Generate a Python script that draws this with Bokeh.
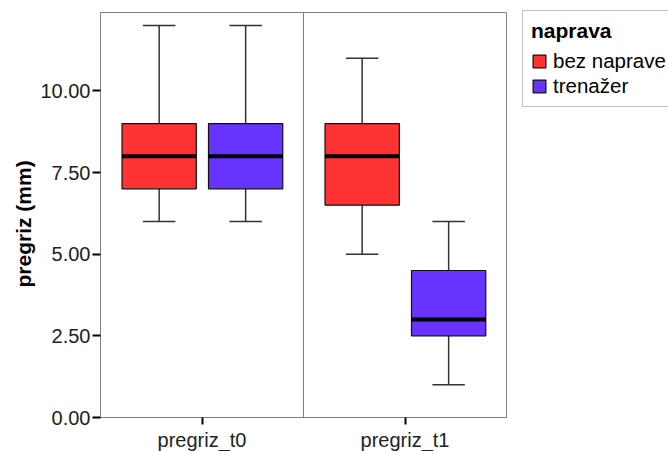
from bokeh.plotting import figure
from bokeh.models import (ColumnDataSource, FactorRange, Range1d, Span, Legend,
                          LegendItem, FixedTicker, NumeralTickFormatter, Title)
from bokeh.transform import dodge
from bokeh.embed import file_html
from bokeh.resources import INLINE

# ---- data ----
groups = ["pregriz_t0", "pregriz_t1"]
series = ["bez naprave", "trenažer"]
colors = ["#FF3333", "#6633FF"]

bez_min = [6, 5]
bez_q1 = [7, 6.5]
bez_med = [8, 8]
bez_q3 = [9, 9]
bez_max = [12, 11]

tre_min = [6, 1]
tre_q1 = [7, 2.5]
tre_med = [8, 3]
tre_q3 = [9, 4.5]
tre_max = [12, 6]

y_ticks = [0, 2.5, 5, 7.5, 10]
y_label = "pregriz (mm)"
legend_title = "naprava"

FONT = "Liberation Sans"
BOX_W = 0.366
CAP_W = 0.16
OFFSETS = [-0.211, 0.215]

p = figure(x_range=FactorRange(*groups, range_padding=0),
           y_range=Range1d(0, 12.4),
           frame_width=406, frame_height=405,
           min_border_left=100, min_border_right=0,
           min_border_top=12, min_border_bottom=30,
           output_backend="svg", toolbar_location=None)

p.xgrid.visible = False
p.ygrid.visible = False
p.outline_line_color = "#808080"
p.outline_line_width = 1
p.background_fill_color = "white"
p.border_fill_color = "white"

p.add_layout(Span(location=1, dimension="height", line_color="#808080", line_width=1))

stats = [
    (bez_min, bez_q1, bez_med, bez_q3, bez_max),
    (tre_min, tre_q1, tre_med, tre_q3, tre_max),
]

box_renderers = []
for (mn, q1, med, q3, mx), color, off in zip(stats, colors, OFFSETS):
    src = ColumnDataSource(dict(group=groups, mn=mn, q1=q1, med=med, q3=q3, mx=mx))
    xc = dodge("group", off, range=p.x_range)
    # stems
    p.segment(x0=xc, y0="q3", x1=xc, y1="mx", source=src, line_color="#333333", line_width=1.5)
    p.segment(x0=xc, y0="mn", x1=xc, y1="q1", source=src, line_color="#333333", line_width=1.5)
    # caps
    xl = dodge("group", off - CAP_W / 2, range=p.x_range)
    xr = dodge("group", off + CAP_W / 2, range=p.x_range)
    p.segment(x0=xl, y0="mx", x1=xr, y1="mx", source=src, line_color="#333333", line_width=1.5)
    p.segment(x0=xl, y0="mn", x1=xr, y1="mn", source=src, line_color="#333333", line_width=1.5)
    # box
    r = p.vbar(x=xc, top="q3", bottom="q1", width=BOX_W, source=src,
               fill_color=color, line_color="#111111", line_width=1.2)
    box_renderers.append(r)
    # median
    ml = dodge("group", off - BOX_W / 2, range=p.x_range)
    mr = dodge("group", off + BOX_W / 2, range=p.x_range)
    p.segment(x0=ml, y0="med", x1=mr, y1="med", source=src, line_color="black", line_width=4)

# ---- axes ----
p.yaxis.ticker = FixedTicker(ticks=y_ticks)
p.yaxis.formatter = NumeralTickFormatter(format="0.00")
for ax in (p.xaxis[0], p.yaxis[0]):
    ax.axis_line_color = "#808080"
    ax.major_tick_line_color = "black"
    ax.major_tick_line_width = 2
    ax.major_tick_in = 0
    ax.major_tick_out = 8
    ax.minor_tick_line_color = None
    ax.major_label_text_font = FONT
    ax.major_label_text_font_size = "20px"
    ax.major_label_text_color = "#222222"
p.yaxis.major_label_standoff = 2
p.xaxis.major_tick_out = 7
p.xaxis.major_label_standoff = 4

# y-axis title (placed as a left-side title so it can sit slightly below centre)
ytitle = Title(text=y_label, align="left", offset=130, standoff=6,
               text_font=FONT, text_font_style="bold", text_font_size="21px",
               text_color="black")
p.add_layout(ytitle, "left")

# ---- legend ----
legend = Legend(items=[LegendItem(label=s, renderers=[r]) for s, r in zip(series, box_renderers)],
                location=(16, 310))
legend.title = legend_title
legend.title_text_font = FONT
legend.title_text_font_style = "bold"
legend.title_text_font_size = "21px"
legend.title_text_color = "black"
legend.title_standoff = 6
legend.label_text_font = FONT
legend.label_text_font_size = "20.5px"
legend.label_text_color = "black"
legend.glyph_width = 16
legend.glyph_height = 16
legend.label_standoff = 6
legend.spacing = 1
legend.padding = 8
legend.margin = 0
legend.border_line_color = "#808080"
legend.border_line_width = 1
legend.background_fill_color = "white"
legend.background_fill_alpha = 1
p.add_layout(legend, "right")

open("out.html", "w").write(file_html(p, INLINE))
